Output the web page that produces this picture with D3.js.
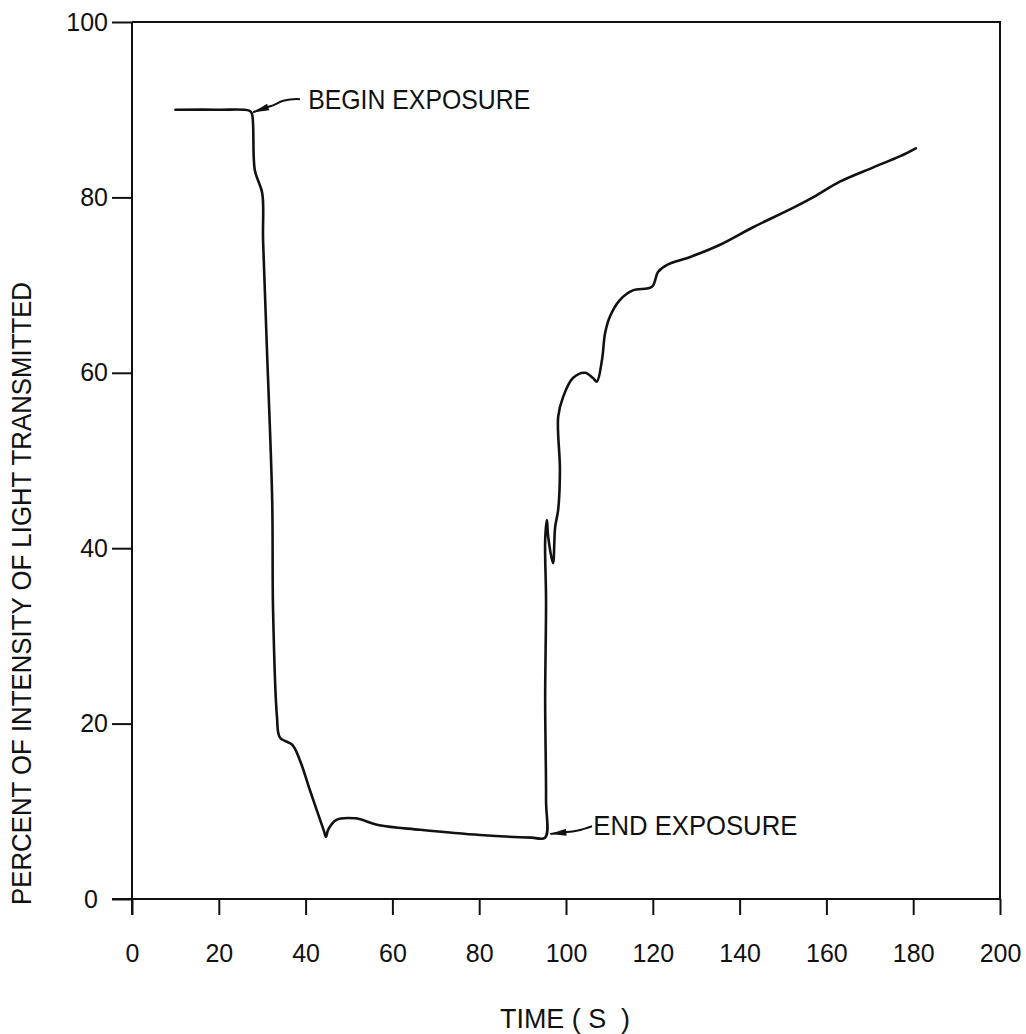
<!DOCTYPE html>
<html>
<head>
<meta charset="utf-8">
<script src="https://cdn.jsdelivr.net/npm/d3@7"></script>
<style>
  html, body { margin: 0; padding: 0; background: #fff; }
  svg { display: block; }
  text { font-family: "Liberation Sans", "DejaVu Sans Condensed", sans-serif; fill: #111; }
</style>
</head>
<body>
<svg id="chart" width="1026" height="1034"></svg>
<script>
// ---- data ----
const timeS = [10, 20, 27, 27.6, 28.3, 30, 30.2, 31.1, 32.3, 32.5, 33.4, 34.1, 36.9, 38.7, 41, 44.2, 44.7, 45.2,
  47, 51.4, 57, 66.4, 80.2, 92, 95.2, 95.4, 95.2, 95.4, 95.2, 95.6, 95.9, 97.0, 97.5, 98.2, 98.6,
  98.2, 99.3, 101.6, 104.4, 106.2, 107.1, 108.3, 109, 110.1, 112.4, 115.4, 119.8, 121.2, 123.3,
  128.6, 135.5, 143.1, 152.3, 156.9, 163.1, 170.7, 177, 180.6];
const percentT = [90, 90, 89.9, 89.6, 83.1, 80.5, 75.1, 62.6, 45.5, 33, 20.8, 18.4, 17.6, 15.8, 12.4, 7.8, 7.1, 7.9,
  9.0, 9.2, 8.4, 7.9, 7.3, 7.0, 7.0, 11.3, 22.7, 34.1, 40.9, 43.2, 41.3, 38.3, 42.4, 44.4, 48.9,
  55, 57.2, 59.4, 60, 59.4, 59, 61.5, 64.5, 66.4, 68.3, 69.4, 69.8, 71.5, 72.3,
  73.2, 74.6, 76.6, 78.8, 80, 81.8, 83.4, 84.7, 85.6];

const xTicks = [0, 20, 40, 60, 80, 100, 120, 140, 160, 180, 200];
const yTicks = [0, 20, 40, 60, 80, 100];

const xTitle = "TIME ( S  )";
const yTitle = "PERCENT OF INTENSITY OF LIGHT TRANSMITTED";

// annotations in data units
const beginArrowT = [27.9, 30.5, 32.5, 34.2, 35.7, 37.2, 38.7];
const beginArrowP = [89.7, 90.2, 90.5, 90.9, 91.1, 91.2, 91.2];
const beginLabel = { text: "BEGIN EXPOSURE", t: 40.6, p: 90.1 };
const endArrowT = [96.4, 99, 101.5, 103.5, 104.8, 106];
const endArrowP = [7.4, 7.6, 7.7, 7.9, 8.1, 8.3];
const endLabel = { text: "END EXPOSURE", t: 106.3, p: 7.3 };

// ---- layout ----
const svg = d3.select("#chart");
const mLeft = 132, mRight = 1000, mTop = 22, mBottom = 899;

const x = d3.scaleLinear().domain([0, 200]).range([mLeft, mRight]);
const y = d3.scaleLinear().domain([0, 100]).range([mBottom, mTop]);

// frame (top & right)
svg.append("path")
  .attr("d", `M${x(0)},${y(100)}H${x(200)}V${y(0)}`)
  .attr("fill", "none").attr("stroke", "#111").attr("stroke-width", 2);

// x axis
const xAxis = svg.append("g").attr("transform", `translate(0,${y(0)})`)
  .call(d3.axisBottom(x).tickValues(xTicks).tickSize(16).tickPadding(29).tickSizeOuter(0));
xAxis.select(".domain").attr("stroke", "#111").attr("stroke-width", 2)
  .attr("d", `M${x(0) - 20},0H${x(200)}`);
xAxis.selectAll(".tick line").attr("stroke", "#111").attr("stroke-width", 2);
xAxis.selectAll(".tick text").attr("font-size", 25).attr("fill", "#111");

// y axis
const yAxis = svg.append("g").attr("transform", `translate(${x(0)},0)`)
  .call(d3.axisLeft(y).tickValues(yTicks).tickSize(20).tickPadding(4).tickSizeOuter(0));
yAxis.select(".domain").attr("stroke", "#111").attr("stroke-width", 2)
  .attr("d", `M0,${y(0) + 16}V${y(100)}`);
yAxis.selectAll(".tick line").attr("stroke", "#111").attr("stroke-width", 2);
yAxis.selectAll(".tick text").attr("font-size", 25).attr("fill", "#111");
yAxis.selectAll(".tick").filter(d => d === 0).select("text").attr("x", -34);

// axis titles
svg.append("text")
  .attr("x", 500).attr("y", 1028)
  .attr("font-size", 27)
  .attr("textLength", 130).attr("lengthAdjust", "spacingAndGlyphs")
  .attr("xml:space", "preserve")
  .text(xTitle);

svg.append("text")
  .attr("transform", "translate(31,905) rotate(-90)")
  .attr("font-size", 27)
  .attr("textLength", 623).attr("lengthAdjust", "spacingAndGlyphs")
  .text(yTitle);

// data line
const pts = timeS.map((t, i) => [t, percentT[i]]);
svg.append("path")
  .datum(pts)
  .attr("fill", "none").attr("stroke", "#111").attr("stroke-width", 2.6)
  .attr("stroke-linejoin", "round").attr("stroke-linecap", "round")
  .attr("d", d3.line().x(d => x(d[0])).y(d => y(d[1])).curve(d3.curveCatmullRom.alpha(0.5)));

// annotations
function annot(ts, ps, label, width) {
  const ap = ts.map((t, i) => [x(t), y(ps[i])]);
  svg.append("path").datum(ap)
    .attr("fill", "none").attr("stroke", "#111").attr("stroke-width", 2)
    .attr("d", d3.line().curve(d3.curveCatmullRom)(ap));
  const [x0, y0] = ap[0], [x1, y1] = ap[2];
  const ang = Math.atan2(y1 - y0, x1 - x0);
  const len = 16, w = 3.5;
  const bx = x0 + len * Math.cos(ang), by = y0 + len * Math.sin(ang);
  const nx = -Math.sin(ang) * w, ny = Math.cos(ang) * w;
  svg.append("path")
    .attr("d", `M${x0},${y0}L${bx + nx},${by + ny}L${bx - nx},${by - ny}Z`)
    .attr("fill", "#111");
  svg.append("text")
    .attr("x", x(label.t)).attr("y", y(label.p))
    .attr("font-size", 28)
    .attr("textLength", width).attr("lengthAdjust", "spacingAndGlyphs")
    .text(label.text);
}
annot(beginArrowT, beginArrowP, beginLabel, 222);
annot(endArrowT, endArrowP, endLabel, 204);
</script>
</body>
</html>
